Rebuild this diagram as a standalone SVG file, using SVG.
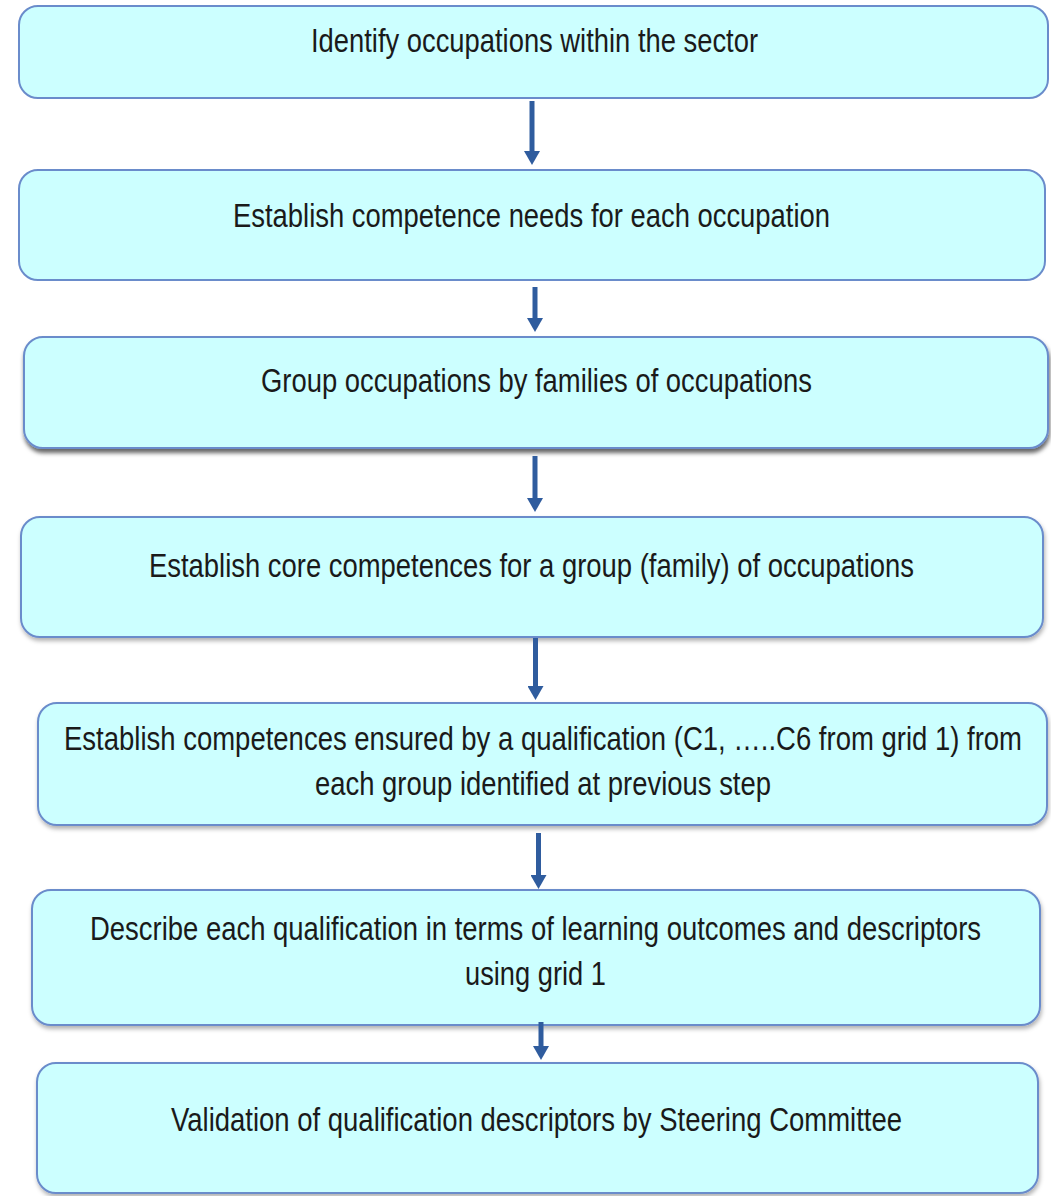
<svg xmlns="http://www.w3.org/2000/svg" width="1051" height="1196" viewBox="0 0 1051 1196">
  <defs>
    <style>
      .box { fill: #CCFFFF; stroke: #6A8CCB; stroke-width: 2; }
      .lbl { font-family: "Liberation Sans Narrow", "Liberation Sans", Arial, sans-serif; font-size: 33px; fill: #1A1A1A; text-anchor: middle; }
      .arr { stroke: #2F5C9E; stroke-width: 5; fill: none; }
    </style>
    <filter id="shade" x="-5%" y="-10%" width="110%" height="130%">
      <feDropShadow dx="1" dy="3" stdDeviation="2" flood-color="#000" flood-opacity="0.3"/>
    </filter>
    <filter id="shadeDark" x="-5%" y="-10%" width="110%" height="130%">
      <feDropShadow dx="1" dy="4" stdDeviation="2" flood-color="#000" flood-opacity="0.6"/>
    </filter>
    <!-- arrowhead drawn along +x so orient="auto" turns it to the line direction -->
    <marker id="head" markerUnits="userSpaceOnUse" markerWidth="14" markerHeight="16" refX="2" refY="8" orient="auto" viewBox="0 0 14 16">
      <path d="M0,0 L14,8 L0,16 Z" fill="#2F5C9E"/>
    </marker>
  </defs>
  <rect width="1051" height="1196" fill="#FFFFFF"/>

  <!-- process steps -->
  <g id="step1">
    <rect class="box" x="19" y="6" width="1029" height="92" rx="19"/>
    <text class="lbl" x="534.5" y="52" textLength="447" lengthAdjust="spacingAndGlyphs">Identify occupations within the sector</text>
  </g>
  <g id="step2">
    <rect class="box" x="19" y="170" width="1026" height="110" rx="19"/>
    <text class="lbl" x="531.5" y="227" textLength="597" lengthAdjust="spacingAndGlyphs">Establish competence needs for each occupation</text>
  </g>
  <g id="step3">
    <rect class="box" x="24" y="337" width="1024" height="111" rx="19" filter="url(#shadeDark)"/>
    <text class="lbl" x="536.5" y="392" textLength="551" lengthAdjust="spacingAndGlyphs">Group occupations by families of occupations</text>
  </g>
  <g id="step4">
    <rect class="box" x="21" y="517" width="1022" height="120" rx="19" filter="url(#shade)"/>
    <text class="lbl" x="531.5" y="577" textLength="765" lengthAdjust="spacingAndGlyphs">Establish core competences for a group (family) of occupations</text>
  </g>
  <g id="step5">
    <rect class="box" x="38" y="703" width="1009" height="122" rx="19" filter="url(#shade)"/>
    <text class="lbl" x="543" y="750" textLength="958" lengthAdjust="spacingAndGlyphs">Establish competences ensured by a qualification (C1, …..C6 from grid 1) from</text>
    <text class="lbl" x="543" y="795" textLength="456" lengthAdjust="spacingAndGlyphs">each group identified at previous step</text>
  </g>
  <g id="step6">
    <rect class="box" x="32" y="890" width="1008" height="135" rx="19" filter="url(#shade)"/>
    <text class="lbl" x="535.5" y="940" textLength="891" lengthAdjust="spacingAndGlyphs">Describe each qualification in terms of learning outcomes and descriptors</text>
    <text class="lbl" x="535.5" y="985" textLength="141" lengthAdjust="spacingAndGlyphs">using grid 1</text>
  </g>
  <g id="step7">
    <rect class="box" x="37" y="1063" width="1001" height="130" rx="19" filter="url(#shade)"/>
    <text class="lbl" x="536.5" y="1131" textLength="731" lengthAdjust="spacingAndGlyphs">Validation of qualification descriptors by Steering Committee</text>
  </g>

  <!-- connectors: each line ends 12px short of the tip; the marker supplies the head -->
  <g id="connectors">
    <line class="arr" x1="532" y1="101" x2="532" y2="153" marker-end="url(#head)"/>
    <line class="arr" x1="535" y1="287" x2="535" y2="320" marker-end="url(#head)"/>
    <line class="arr" x1="535" y1="456" x2="535" y2="500" marker-end="url(#head)"/>
    <line class="arr" x1="535.5" y1="638" x2="535.5" y2="688" marker-end="url(#head)"/>
    <line class="arr" x1="538.5" y1="833" x2="538.5" y2="877" marker-end="url(#head)"/>
    <line class="arr" x1="541" y1="1022" x2="541" y2="1048" marker-end="url(#head)"/>
  </g>
</svg>
